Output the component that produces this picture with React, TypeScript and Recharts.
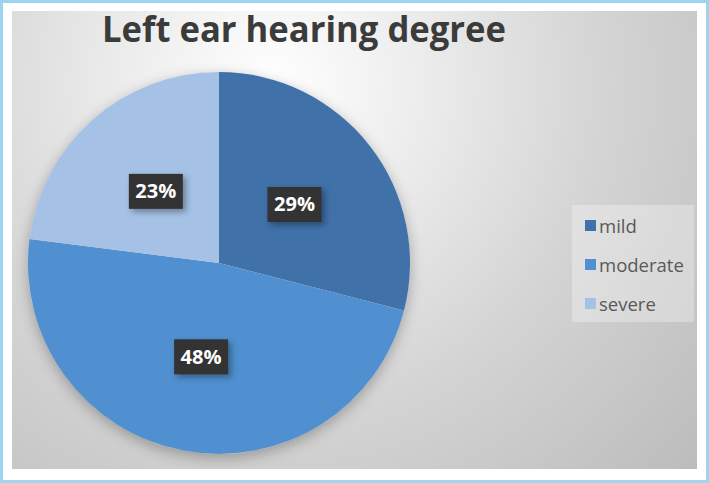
import { PieChart, Pie, Cell, Legend } from 'recharts';

const categories = ['mild', 'moderate', 'severe'];
const shares = [29, 48, 23];
const sliceColors = ['#4071a9', '#5090d0', '#a5c2e6'];

const pieData = categories.map((name, i) => ({ name, value: shares[i] }));

const RAD = Math.PI / 180;

function renderLabel(props: any) {
  const { cx, cy, midAngle, outerRadius, value } = props;
  const r = outerRadius * 0.5;
  const x = cx + r * Math.cos(-midAngle * RAD);
  const y = cy + r * Math.sin(-midAngle * RAD);
  return (
    <g>
      <rect
        x={x - 27}
        y={y - 17.5}
        width={54}
        height={35}
        fill="#333333"
        style={{ filter: 'drop-shadow(3px 3px 3px rgba(0,0,0,0.35))' }}
      />
      <text
        x={x}
        y={y + 7}
        textAnchor="middle"
        fill="#ffffff"
        fontFamily="'Open Sans', sans-serif"
        fontWeight={700}
        fontSize={20}
        textLength={41}
        lengthAdjust="spacingAndGlyphs"
      >
        {`${value}%`}
      </text>
    </g>
  );
}

function LegendBox(props: any) {
  const { payload } = props;
  return (
    <div
      style={{
        width: 122,
        height: 117,
        boxSizing: 'border-box',
        paddingTop: 1,
        background: 'rgba(255,255,255,0.3)',
      }}
    >
      {payload.map((item: any) => (
        <div
          key={item.value}
          style={{ height: 39, display: 'flex', alignItems: 'center', paddingLeft: 13 }}
        >
          <span style={{ width: 11, height: 11, background: item.color, marginRight: 3 }} />
          <span
            style={{
              fontFamily: "'Open Sans', sans-serif",
              fontSize: 18.5,
              color: '#595959',
              lineHeight: '20px',
            }}
          >
            {item.value}
          </span>
        </div>
      ))}
    </div>
  );
}

export default function App() {
  return (
    <div
      style={{
        position: 'absolute',
        left: 0,
        top: 0,
        width: 709,
        height: 483,
        boxSizing: 'border-box',
        border: '3px solid #9fd4ef',
        background: '#ffffff',
      }}
    >
      <div
        style={{
          position: 'absolute',
          left: 9,
          top: 8,
          width: 685,
          height: 458,
          background:
            'radial-gradient(circle at 38% 16%, #ffffff 0%, #ebebeb 28%, #d4d4d4 58%, #bcbcbc 100%)',
        }}
      />
      <div
        style={{
          position: 'absolute',
          left: 25,
          top: 69,
          width: 382,
          height: 382,
          borderRadius: '50%',
          boxShadow: '0 4px 14px rgba(0,0,0,0.28)',
        }}
      />
      <svg
        width={709}
        height={80}
        style={{ position: 'absolute', left: -3, top: -3 }}
      >
        <text
          x={102}
          y={42}
          fill="#3b3b3b"
          fontFamily="'Open Sans', sans-serif"
          fontWeight={700}
          fontSize={35}
          textLength={404}
          lengthAdjust="spacingAndGlyphs"
        >
          Left ear hearing degree
        </text>
      </svg>
      <div style={{ position: 'absolute', left: -3, top: -3 }}>
        <PieChart width={709} height={483} margin={{ top: 0, right: 0, bottom: 0, left: 0 }}>
          <Pie
            data={pieData}
            dataKey="value"
            nameKey="name"
            cx={219}
            cy={263}
            outerRadius={191}
            startAngle={90}
            endAngle={-270}
            stroke="none"
            label={renderLabel}
            labelLine={false}
            isAnimationActive={false}
          >
            {pieData.map((d, i) => (
              <Cell key={d.name} fill={sliceColors[i]} />
            ))}
          </Pie>
          <Legend
            content={<LegendBox />}
            wrapperStyle={{ position: 'absolute', left: 572, top: 205, width: 122, height: 117 }}
          />
        </PieChart>
      </div>
    </div>
  );
}
